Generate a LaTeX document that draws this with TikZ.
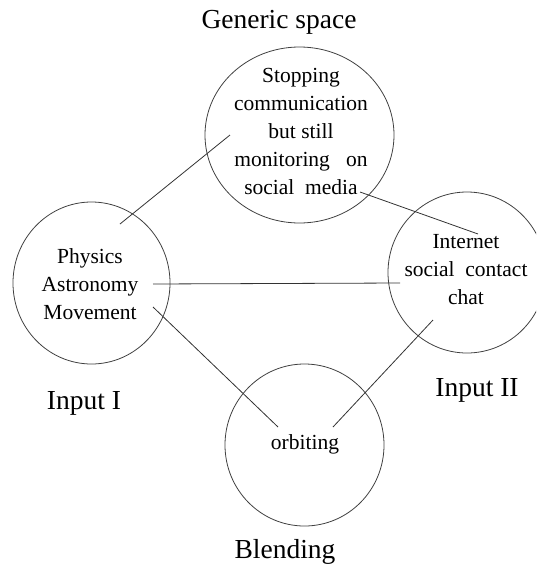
\documentclass[tikz,border=0pt]{standalone}
\usepackage{fontspec}
\setmainfont{Liberation Serif}
\usetikzlibrary{shapes.geometric}
\begin{document}
\begin{tikzpicture}
    [
    x=1pt, y=-1pt,
    spacering/.style={ellipse,draw=black!75,line width=0.8pt,inner sep=0pt},
    spacetext/.style={align=center,inner sep=0pt,font=\fontsize{21.5}{28}\selectfont},
    heading/.style={font=\fontsize{27.5}{33}\selectfont},
    link/.style={draw=black!80,line width=0.8pt}
    ]
    \clip (0,0) rectangle (536,568);
    % the four spaces
    \node (generic) at (299.5,135) [spacering, minimum width=189pt, minimum height=176pt] {};
    \node (input1) at (91.5,283) [spacering, minimum width=157pt, minimum height=162pt] {};
    \node (input2) at (467,272.5) [spacering, minimum width=158pt, minimum height=161pt] {};
    \node (blend) at (304.5,445) [spacering, minimum width=159pt, minimum height=162pt] {};
    \node (generictext) at (301,131) [spacetext] {Stopping\\communication\\but still\\monitoring~~~on\\social~~media};
    \node (input1text) at (90,284.5) [spacetext] {Physics\\Astronomy\\Movement};
    \node (input2text) at (466,270) [spacetext] {Internet\\social~~contact\\chat};
    \node (blendtext) at (305,444) [spacetext] {orbiting};
    \node (genericlabel) at (279,22) [heading] {Generic space};
    \node (input1label) at (84,403) [heading] {Input I};
    \node (input2label) at (477,390) [heading] {Input II};
    \node (blendlabel) at (285,552) [heading] {Blending};
    % ends of the links
    \coordinate (g1) at (230,135);
    \coordinate (g2) at (360,192);
    \coordinate (a1) at (120,224);
    \coordinate (a2) at (153,284);
    \coordinate (a3) at (153,307);
    \coordinate (c1) at (478,234);
    \coordinate (c2) at (400,283);
    \coordinate (c3) at (433,320);
    \coordinate (o1) at (278,427);
    \coordinate (o2) at (333,427);
    \draw [link] (a1) to (g1);
    \draw [link] (g2) to (c1);
    \draw [link] (a2) to (c2);
    \draw [link] (a3) to (o1);
    \draw [link] (c3) to (o2);
  \end{tikzpicture}
\end{document}
